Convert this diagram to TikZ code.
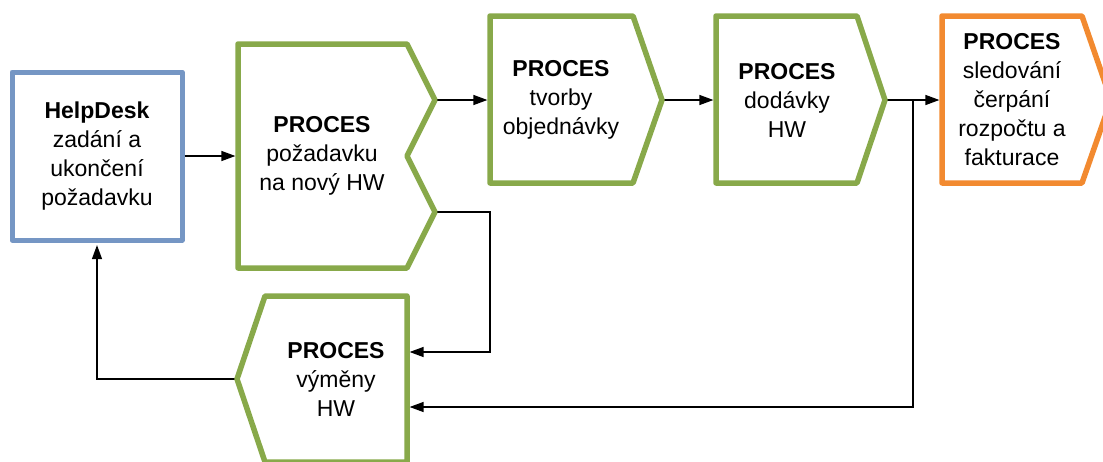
\documentclass[tikz,border=0pt]{standalone}
\usepackage{fontspec}
\setmainfont{Liberation Sans}
\usetikzlibrary{arrows.meta}
\definecolor{procgreen}{HTML}{88A94A}
\definecolor{deskblue}{HTML}{7596C4}
\definecolor{billorange}{HTML}{F28A30}
\begin{document}
\begin{tikzpicture}[x=1pt,y=-1pt,
  outline/.style={line width=5.5pt, line join=round, fill=white},
  txt/.style={align=center, font=\fontsize{23}{29}\selectfont, text=black, inner sep=0pt},
  link/.style={line width=1.3pt, -{Triangle[length=14pt,width=10pt]}, shorten >=2.6pt}]
\useasboundingbox (0,0) rectangle (1103,461);
\clip (0,0) rectangle (1103,461);

% connection points on the process shapes
\coordinate (req-in) at (238,156);
\coordinate (req-o1) at (435,100);
\coordinate (req-o2) at (435,212);
\coordinate (tv-in) at (490,100);
\coordinate (tv-o) at (662,100);
\coordinate (dd-in) at (716,100);
\coordinate (dd-o) at (885,100);
\coordinate (or-in) at (942,100);
\coordinate (vm-in1) at (407,352);
\coordinate (vm-in2) at (407,407);
\coordinate (vm-o) at (237,379);
\coordinate (j1) at (490,352);
\coordinate (br) at (913,100);

% HelpDesk box
\node[draw=deskblue, line width=5pt, fill=white, minimum width=170pt, minimum height=168pt, line join=round] (hd) at (97,156) {};

% connectors
\draw[link] (hd.east) -- (req-in);
\draw[link] (req-o1) -- (tv-in);
\draw[link] (tv-o) -- (dd-in);
\draw[link] (dd-o) -- (or-in);
\draw[link] (req-o2) -| (j1) -- (vm-in1);
\draw[link] (br) |- (vm-in2);
\draw[link] (vm-o) -| (hd.south);

% process shapes
\draw[outline, draw=procgreen] (238,44) -- (407,44) -- (req-o1) -- (407,156) -- (req-o2) -- (407,268) -- (238,268) -- cycle;
\draw[outline, draw=procgreen] (490,16) -- (633,16) -- (tv-o) -- (633,183) -- (490,183) -- cycle;
\draw[outline, draw=procgreen] (716,16) -- (857,16) -- (dd-o) -- (857,183) -- (716,183) -- cycle;
\draw[outline, draw=billorange] (942,16) -- (1082,16) -- (1111,100) -- (1082,183) -- (942,183) -- cycle;
\draw[outline, draw=procgreen] (265,296) -- (407,296) -- (407,462) -- (265,462) -- (vm-o) -- cycle;

% labels
\node[txt] (hdt) at (97,156) {\textbf{HelpDesk}\\zadání a\\ukončení\\požadavku};
\node[txt] (req) at (322,156) {\textbf{PROCES}\\požadavku\\na nový HW};
\node[txt] (tv) at (561,100) {\textbf{PROCES}\\tvorby\\objednávky};
\node[txt] (dd) at (787,100) {\textbf{PROCES}\\dodávky\\HW};
\node[txt] (or) at (1012,100) {\textbf{PROCES}\\sledování\\čerpání\\rozpočtu a\\fakturace};
\node[txt] (vm) at (336,379) {\textbf{PROCES}\\výměny\\HW};
\end{tikzpicture}
\end{document}
